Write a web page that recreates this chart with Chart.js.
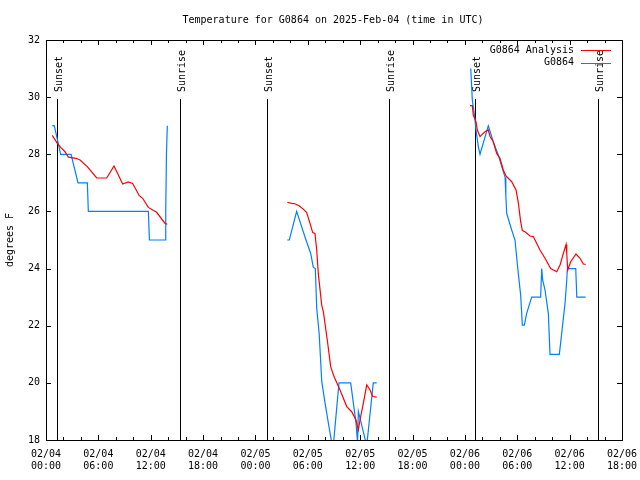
<!DOCTYPE html>
<html>
<head>
<meta charset="utf-8">
<script src="https://cdn.jsdelivr.net/npm/chart.js@4"></script>
<style>
  body { margin: 0; background: #fff; }
  canvas { display: block; }
</style>
</head>
<body>
<canvas id="tempChart" width="640" height="480"></canvas>
<script>
// hours since 02/04 00:00 UTC, null = gap in data
var analysisHours = [0.72, 1.3, 1.68, 2.18, 2.56, 3.44, 3.9, 4.73, 5.81, 6.96, 7.79, 8.79, 9.43, 9.93, 10.69, 11.08, 11.72, 12.68, 13.64, 13.9, null,
  27.65, 28.15, 28.53, 29.03, 29.48, 29.87, 30.25, 30.56, 30.82, 31.02, 31.2, 31.59, 31.78, 32.23, 32.62, 33.0, 33.69, 34.46, 35.03, 35.52, 35.79, 35.98, 36.36, 36.75, 37.13, 37.44, 37.89, null,
  48.58, 48.85, 48.96, 49.27, 49.42, 49.73, 50.3, 50.68, 50.88, 51.25, 51.64, 52.02, 52.4, 52.71, 53.36, 53.86, 54.12, 54.39, 54.58, 54.89, 55.46, 55.84, 56.6, 57.18, 57.83, 58.52, 58.9, 59.28, 59.59, 59.67, 59.78, 60.12, 60.73, 61.19, 61.57, 61.84];
var analysisTemps = [28.66, 28.38, 28.24, 28.09, 27.9, 27.86, 27.8, 27.57, 27.17, 27.17, 27.59, 26.96, 27.03, 26.98, 26.55, 26.46, 26.14, 25.97, 25.58, 25.55, null,
  26.32, 26.28, 26.27, 26.19, 26.08, 25.96, 25.58, 25.26, 25.23, 24.65, 23.83, 22.72, 22.49, 21.5, 20.57, 20.22, 19.75, 19.17, 18.99, 18.7, 18.35, 18.7, 19.28, 19.93, 19.75, 19.52, 19.5, null,
  29.7, 29.7, 29.37, 29.14, 28.85, 28.62, 28.79, 28.85, 28.62, 28.44, 28.03, 27.86, 27.45, 27.24, 27.04, 26.75, 26.3, 25.64, 25.33, 25.29, 25.14, 25.12, 24.65, 24.36, 24.0, 23.89, 24.12, 24.53, 24.84, 24.53, 23.95, 24.24, 24.51, 24.36, 24.16, 24.15];

var obsHours = [0.72, 0.95, 1.68, 2.87, 3.67, 4.74, 4.85, 11.73, 11.85, 13.68, 13.72, 13.8, 13.9, null,
  27.65, 27.88, 28.72, 29.79, 30.33, 30.63, 30.86, 31.02, 31.3, 31.6, 31.98, 32.36, 32.74, 32.95, 33.57, 34.91, 35.52, 35.7, 35.79, 36.75, 37.5, 37.89, null,
  48.67, 48.85, 49.12, 49.27, 49.54, 49.73, 50.68, 51.25, 51.83, 52.22, 52.6, 52.69, 52.79, 53.36, 53.74, 53.94, 54.24, 54.39, 54.58, 54.81, 55.08, 55.65, 56.68, 56.8, 56.91, 57.18, 57.56, 57.75, 58.82, 59.09, 59.47, 59.67, 59.74, 60.7, 60.82, 61.84];
var obsTemps = [29, 29, 28, 28, 27, 27, 26, 26, 25, 25, 26, 28, 29, null,
  25, 25, 26, 25, 24.53, 24.04, 24.0, 22.6, 21.73, 20.04, 19.28, 18.58, 17.9, 17.9, 20, 20, 18.6, 17.9, 19, 17.8, 20, 20, null,
  31.0, 29.9, 29.31, 28.85, 28.27, 28.0, 29.0, 28.44, 27.97, 27.57, 27.2, 26.54, 25.93, 25.35, 25.0, 24.36, 23.48, 23.07, 22.02, 22.02, 22.43, 23.0, 23.0, 24.0, 23.6, 23.25, 22.43, 21.0, 21.0, 21.73, 22.78, 23.6, 24.0, 24.0, 23.0, 23.0];

var sunHours = [1.29, 15.41, 25.29, 39.34, 49.12, 63.29];
var sunLabels = ['Sunset', 'Sunrise', 'Sunset', 'Sunrise', 'Sunset', 'Sunrise'];

var seriesNames = ['G0864 Analysis', 'G0864'];
var seriesColors = ['#ff0000', '#0080ff'];

var FONT = '10px "DejaVu Sans Mono", "Liberation Mono", monospace';

function toPoints(hours, temps) {
  return hours.map(function (h, i) {
    return h === null ? { x: null, y: null } : { x: h, y: temps[i] };
  });
}

// title, legend, axis label, sunrise/sunset markers, frame and inner ticks
var gnuplotLook = {
  id: 'gnuplotLook',
  beforeDatasetsDraw: function (chart) {
    var c = chart.ctx, a = chart.chartArea, xs = chart.scales.x, ys = chart.scales.y;
    c.save();
    c.strokeStyle = '#000';
    c.fillStyle = '#000';
    c.lineWidth = 1;
    c.font = FONT;

    // sunrise / sunset lines
    var lineTop = Math.round(ys.getPixelForValue(30)) + 2;
    sunHours.forEach(function (h, i) {
      var x = Math.round(xs.getPixelForValue(h)) + 0.5;
      c.beginPath();
      c.moveTo(x, lineTop);
      c.lineTo(x, a.bottom);
      c.stroke();
      c.save();
      c.translate(x + 2, lineTop - 7);
      c.rotate(-Math.PI / 2);
      c.textAlign = 'left';
      c.textBaseline = 'middle';
      c.fillText(sunLabels[i], 0, 0);
      c.restore();
    });

    // frame
    c.strokeRect(Math.round(a.left) + 0.5, Math.round(a.top) + 0.5,
      Math.round(a.right - a.left), Math.round(a.bottom - a.top));

    // inner ticks, mirrored
    for (var v = 0; v <= 66; v += 2) {
      var len = v % 6 === 0 ? 5 : 3;
      var px = Math.round(xs.getPixelForValue(v)) + 0.5;
      c.beginPath();
      c.moveTo(px, a.bottom); c.lineTo(px, a.bottom - len);
      c.moveTo(px, a.top); c.lineTo(px, a.top + len);
      c.stroke();
    }
    for (var t = 18; t <= 32; t += 2) {
      var py = Math.round(ys.getPixelForValue(t)) + 0.5;
      c.beginPath();
      c.moveTo(a.left, py); c.lineTo(a.left + 5, py);
      c.moveTo(a.right, py); c.lineTo(a.right - 5, py);
      c.stroke();
    }

    // title
    c.textAlign = 'center';
    c.textBaseline = 'middle';
    c.fillText('Temperature for G0864 on 2025-Feb-04 (time in UTC)', 333, 20);

    // y axis label
    c.save();
    c.translate(10, 240);
    c.rotate(-Math.PI / 2);
    c.fillText('degrees F', 0, 0);
    c.restore();

    // legend
    c.textAlign = 'right';
    seriesNames.forEach(function (name, i) {
      var y = 50 + i * 12.7;
      c.fillStyle = '#000';
      c.fillText(name, 574, y);
      c.strokeStyle = seriesColors[i];
      c.beginPath();
      c.moveTo(581, Math.round(y) + 0.5);
      c.lineTo(611, Math.round(y) + 0.5);
      c.stroke();
    });
    c.restore();
  }
};

var ctx = document.getElementById('tempChart').getContext('2d');
var tempChart = new Chart(ctx, {
  type: 'line',
  data: {
    datasets: [{
      label: seriesNames[0],
      data: toPoints(analysisHours, analysisTemps),
      borderColor: seriesColors[0],
      borderWidth: 1.2,
      pointRadius: 0,
      tension: 0,
      spanGaps: false
    }, {
      label: seriesNames[1],
      data: toPoints(obsHours, obsTemps),
      borderColor: seriesColors[1],
      borderWidth: 1.2,
      pointRadius: 0,
      tension: 0,
      spanGaps: false
    }]
  },
  options: {
    responsive: false,
    animation: false,
    layout: { padding: { top: 40, right: 18, left: 0, bottom: 0 } },
    plugins: {
      legend: { display: false },
      title: { display: false },
      tooltip: { enabled: false }
    },
    scales: {
      x: {
        type: 'linear',
        min: 0,
        max: 66,
        grid: { display: false, drawTicks: false },
        border: { display: false },
        afterFit: function (s) { s.height = 40; s.paddingLeft = 0; s.paddingRight = 0; },
        ticks: {
          stepSize: 6,
          padding: 8,
          maxRotation: 0,
          autoSkip: false,
          color: '#000',
          font: { family: '"DejaVu Sans Mono", "Liberation Mono", monospace', size: 10, lineHeight: 1.25 },
          callback: function (v) {
            var day = 4 + Math.floor(v / 24);
            var hr = v % 24;
            return ['02/0' + day, (hr < 10 ? '0' : '') + hr + ':00'];
          }
        }
      },
      y: {
        min: 18,
        max: 32,
        grid: { display: false, drawTicks: false },
        border: { display: false },
        afterFit: function (s) { s.width = 46; s.paddingTop = 0; s.paddingBottom = 0; },
        ticks: {
          stepSize: 2,
          padding: 6,
          color: '#000',
          font: { family: '"DejaVu Sans Mono", "Liberation Mono", monospace', size: 10 }
        }
      }
    }
  },
  plugins: [gnuplotLook]
});
</script>
</body>
</html>
